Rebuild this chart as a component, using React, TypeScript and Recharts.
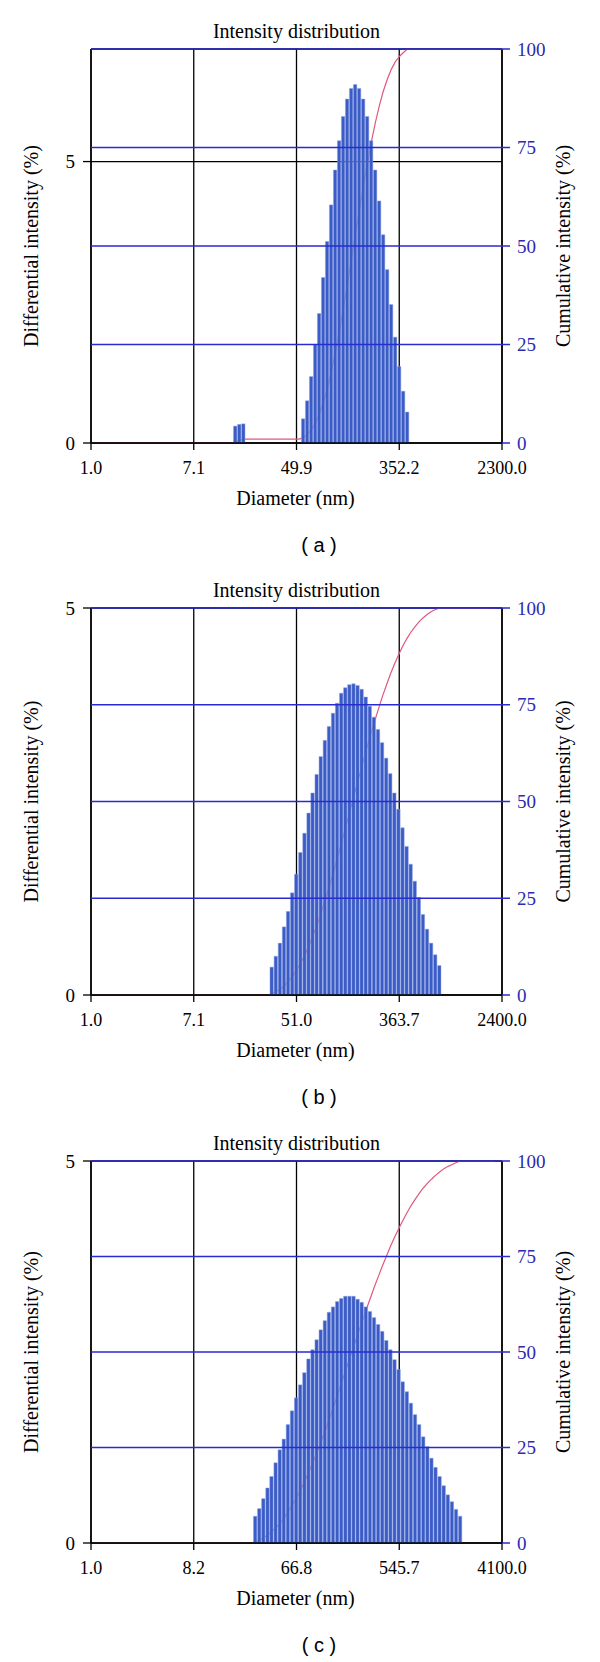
import React from 'react';
import { ComposedChart, Bar, Line, XAxis, YAxis, CartesianGrid, ReferenceLine } from 'recharts';

// ---------- Panel (a) ----------
const aTickLabels = ['1.0', '7.1', '49.9', '352.2', '2300.0'];
const aMaxDiameter = 2300;
const aLeftMax = 7;
const aDiameter = [15.2, 16.4, 17.7, 54.6, 58.9, 63.5, 68.5, 73.8, 79.6, 85.8, 92.5, 99.8, 107.6, 116.0, 125.1, 134.9, 145.4, 156.8, 169.1, 182.3, 196.6, 212.0, 228.6, 246.5, 265.7, 286.5, 309.0, 333.2, 359.2, 387.3];
const aDifferential = [0.30, 0.33, 0.34, 0.43, 0.75, 1.18, 1.75, 2.30, 2.94, 3.58, 4.23, 4.85, 5.37, 5.80, 6.11, 6.30, 6.37, 6.30, 6.11, 5.80, 5.37, 4.85, 4.30, 3.70, 3.08, 2.46, 1.88, 1.36, 0.92, 0.55];
const aCurveDiameter = [1, 14.1, 15.2, 16.4, 17.7, 50.6, 54.6, 58.9, 63.5, 68.5, 73.8, 79.6, 85.8, 92.5, 99.8, 107.6, 116.0, 125.1, 134.9, 145.4, 156.8, 169.1, 182.3, 196.6, 212.0, 228.6, 246.5, 265.7, 286.5, 309.0, 333.2, 359.2, 387.3, 2090];
const aCumulative = [0, 0, 0.3, 0.6, 1.0, 1.0, 1.4, 2.2, 3.3, 5.1, 7.4, 10.3, 13.9, 18.1, 23.0, 28.4, 34.2, 40.3, 46.6, 52.9, 59.2, 65.3, 71.1, 76.5, 81.4, 85.7, 89.4, 92.4, 94.9, 96.8, 98.1, 99.1, 100, 100];

// ---------- Panel (b) ----------
const bTickLabels = ['1.0', '7.1', '51.0', '363.7', '2400.0'];
const bMaxDiameter = 2400;
const bLeftMax = 5;
const bDiameter = [30.8, 33.3, 36.0, 38.9, 42.0, 45.4, 49.0, 53.0, 57.3, 61.9, 66.8, 72.2, 78.0, 84.3, 91.1, 98.4, 106.3, 114.9, 124.1, 134.1, 144.9, 156.6, 169.2, 182.8, 197.5, 213.4, 230.6, 249.1, 269.2, 290.8, 314.2, 339.5, 366.8, 396.3, 428.2, 462.8, 500.0, 540.2, 583.7, 630.7, 681.4, 736.3];
const bDifferential = [0.36, 0.50, 0.67, 0.88, 1.08, 1.32, 1.56, 1.84, 2.09, 2.35, 2.61, 2.85, 3.08, 3.29, 3.47, 3.64, 3.77, 3.90, 3.97, 4.01, 4.02, 4.00, 3.95, 3.85, 3.73, 3.59, 3.43, 3.26, 3.06, 2.86, 2.61, 2.40, 2.16, 1.92, 1.69, 1.47, 1.26, 1.04, 0.85, 0.67, 0.52, 0.38];
const bCurveDiameter = [1, 28.5, 30.8, 33.3, 36.0, 38.9, 42.0, 45.4, 49.0, 53.0, 57.3, 61.9, 66.8, 72.2, 78.0, 84.3, 91.1, 98.4, 106.3, 114.9, 124.1, 134.1, 144.9, 156.6, 169.2, 182.8, 197.5, 213.4, 230.6, 249.1, 269.2, 290.8, 314.2, 339.5, 366.8, 396.3, 428.2, 462.8, 500.0, 540.2, 583.7, 630.7, 681.4, 736.3, 2100];
const bCumulative = [0, 0, 0.4, 0.9, 1.5, 2.4, 3.5, 4.8, 6.4, 8.2, 10.3, 12.7, 15.3, 18.1, 21.2, 24.5, 28.0, 31.6, 35.4, 39.3, 43.2, 47.2, 51.3, 55.3, 59.2, 63.1, 66.8, 70.4, 73.8, 77.1, 80.1, 83.0, 85.6, 88.0, 90.2, 92.1, 93.8, 95.2, 96.5, 97.5, 98.4, 99.1, 99.6, 100, 100];

// ---------- Panel (c) ----------
const cTickLabels = ['1.0', '8.2', '66.8', '545.7', '4100.0'];
const cMaxDiameter = 4100;
const cLeftMax = 5;
const cDiameter = [27.9, 30.3, 32.9, 35.8, 38.8, 42.2, 45.9, 49.8, 54.1, 58.8, 63.9, 69.4, 75.5, 82.0, 89.1, 96.8, 105.2, 114.3, 124.1, 134.9, 146.6, 159.2, 173.0, 188.0, 204.2, 221.9, 241.1, 262.0, 284.7, 309.3, 336.0, 365.1, 396.7, 431.0, 468.3, 508.8, 552.8, 600.7, 652.6, 709.2, 770.5, 837.1, 909.6, 988.3, 1074.0, 1166.8, 1267.7, 1377.6, 1496.6, 1626.3, 1767.0];
const cDifferential = [0.35, 0.45, 0.58, 0.72, 0.87, 1.05, 1.22, 1.36, 1.55, 1.73, 1.90, 2.07, 2.23, 2.41, 2.53, 2.66, 2.79, 2.91, 3.02, 3.09, 3.16, 3.20, 3.23, 3.23, 3.23, 3.19, 3.15, 3.09, 3.03, 2.95, 2.86, 2.77, 2.65, 2.53, 2.40, 2.27, 2.11, 1.98, 1.83, 1.68, 1.55, 1.39, 1.26, 1.11, 0.99, 0.87, 0.75, 0.63, 0.54, 0.44, 0.35];
const cCurveDiameter = [1, 25.7, 27.9, 30.3, 32.9, 35.8, 38.8, 42.2, 45.9, 49.8, 54.1, 58.8, 63.9, 69.4, 75.5, 82.0, 89.1, 96.8, 105.2, 114.3, 124.1, 134.9, 146.6, 159.2, 173.0, 188.0, 204.2, 221.9, 241.1, 262.0, 284.7, 309.3, 336.0, 365.1, 396.7, 431.0, 468.3, 508.8, 552.8, 600.7, 652.6, 709.2, 770.5, 837.1, 909.6, 988.3, 1074.0, 1166.8, 1267.7, 1377.6, 1496.6, 1626.3, 1767.0, 3490];
const cCumulative = [0, 0, 0.4, 0.8, 1.4, 2.1, 3.0, 4.0, 5.2, 6.6, 8.2, 9.9, 11.8, 13.9, 16.1, 18.5, 21.0, 23.7, 26.5, 29.4, 32.4, 35.5, 38.7, 41.9, 45.1, 48.3, 51.5, 54.7, 57.9, 61.0, 64.0, 67.0, 69.8, 72.6, 75.2, 77.8, 80.2, 82.4, 84.5, 86.5, 88.4, 90.0, 91.6, 93.0, 94.2, 95.3, 96.3, 97.2, 98.0, 98.6, 99.1, 99.6, 100, 100];

const leftTicks = [0, 5];
const rightTicks = [0, 25, 50, 75, 100];
const gridTicks = [25, 50, 75, 100];

const SERIF = '"Liberation Serif", "Times New Roman", serif';
const SANS = '"Liberation Sans", Arial, sans-serif';
const BLUE = '#2a2ad2';
const BLUE_TEXT = '#2b2bb0';
const BAR = '#3b5bc6';
const RED = '#e0587c';

const MT = 10;
const XH = 40;
const PLOT_LEFT = 91;
const PLOT_RIGHT = 502;

type PanelProps = {
  plotTop: number;
  plotH: number;
  diameter: number[];
  differential: number[];
  curveDiameter: number[];
  cumulative: number[];
  tickLabels: string[];
  maxDiameter: number;
  leftMax: number;
  letter: string;
};

function Panel(p: PanelProps) {
  const data = p.diameter.map((d, i) => ({ d, v: p.differential[i] }));
  const curve = p.curveDiameter.map((d, i) => ({ d, c: p.cumulative[i] }));
  const n = p.tickLabels.length - 1;
  const xTicks = p.tickLabels.map((_, i) => (i === 0 ? 1 : i === n ? p.maxDiameter : Math.pow(p.maxDiameter, i / n)));
  const H = MT + p.plotH + XH;
  const axisY = p.plotTop + p.plotH;
  const midY = p.plotTop + p.plotH / 2;
  const midX = (PLOT_LEFT + PLOT_RIGHT) / 2;
  return (
    <>
      <div style={{ position: 'absolute', left: 0, top: p.plotTop - MT, width: 600, height: H }}>
        <ComposedChart
          width={600}
          height={H}
          data={data}
          margin={{ top: MT, right: 600 - PLOT_RIGHT - 60, bottom: 0, left: PLOT_LEFT - 60 }}
        >
          <CartesianGrid yAxisId="left" stroke="#000" strokeWidth={1.3} />
          <XAxis
            dataKey="d"
            type="number"
            scale="log"
            domain={[1, p.maxDiameter]}
            allowDataOverflow
            ticks={xTicks}
            interval={0}
            tickFormatter={(_v: number, i: number) => p.tickLabels[i]}
            height={XH}
            tickSize={7}
            tickMargin={11}
            axisLine={{ stroke: '#000', strokeWidth: 1.6 }}
            tickLine={{ stroke: '#000', strokeWidth: 1.3 }}
            tick={{ fill: '#000', fontSize: 18, fontFamily: SERIF }}
          />
          <YAxis
            yAxisId="left"
            domain={[0, p.leftMax]}
            allowDataOverflow
            ticks={leftTicks}
            interval={0}
            width={60}
            tickSize={8}
            tickMargin={8}
            axisLine={{ stroke: '#000', strokeWidth: 1.5 }}
            tickLine={{ stroke: '#000', strokeWidth: 1.3 }}
            tick={{ fill: '#000', fontSize: 19, fontFamily: SERIF }}
          />
          <YAxis
            yAxisId="right"
            orientation="right"
            domain={[0, 100]}
            allowDataOverflow
            ticks={rightTicks}
            interval={0}
            width={60}
            tickSize={8}
            tickMargin={7}
            axisLine={{ stroke: '#000', strokeWidth: 1.5 }}
            tickLine={{ stroke: BLUE, strokeWidth: 1.5 }}
            tick={{ fill: BLUE_TEXT, fontSize: 19, fontFamily: SERIF }}
          />
          <Line
            yAxisId="right"
            data={curve}
            dataKey="c"
            type="linear"
            stroke={RED}
            strokeWidth={1.2}
            dot={false}
            activeDot={false}
            isAnimationActive={false}
            zIndex={250}
          />
          <Bar
            yAxisId="left"
            dataKey="v"
            barSize={3.4}
            fill={BAR}
            stroke="#8fa4e2"
            strokeWidth={0.5}
            isAnimationActive={false}
          />
          {gridTicks.map((t) => (
            <ReferenceLine key={t} yAxisId="right" y={t} stroke={BLUE} strokeWidth={1.6} zIndex={600} />
          ))}
        </ComposedChart>
      </div>
      <svg
        style={{ position: 'absolute', left: 0, top: 0, pointerEvents: 'none' }}
        width={600}
        height={1662}
      >
        <text x={midX} y={p.plotTop - 11.5} textAnchor="middle" fontFamily={SERIF} fontSize={20} fill="#000">
          Intensity distribution
        </text>
        <text x={midX - 1} y={axisY + 62} textAnchor="middle" fontFamily={SERIF} fontSize={20} fill="#000">
          Diameter (nm)
        </text>
        <text
          transform={`translate(37.5, ${midY}) rotate(-90)`}
          textAnchor="middle"
          fontFamily={SERIF}
          fontSize={20}
          fill="#000"
        >
          Differential intensity (%)
        </text>
        <text
          transform={`translate(570, ${midY}) rotate(-90)`}
          textAnchor="middle"
          fontFamily={SERIF}
          fontSize={20}
          fill="#000"
        >
          Cumulative intensity (%)
        </text>
        <text x={319} y={axisY + 108.5} textAnchor="middle" fontFamily={SANS} fontSize={20} fill="#000" xmlSpace="preserve">
          {`( ${p.letter} )`}
        </text>
      </svg>
    </>
  );
}

export default function App() {
  return (
    <div style={{ position: 'absolute', left: 0, top: 0, width: 600, height: 1662, background: '#fff', overflow: 'hidden' }}>
      <Panel
        plotTop={49}
        plotH={394}
        diameter={aDiameter}
        differential={aDifferential}
        curveDiameter={aCurveDiameter}
        cumulative={aCumulative}
        tickLabels={aTickLabels}
        maxDiameter={aMaxDiameter}
        leftMax={aLeftMax}
        letter="a"
      />
      <Panel
        plotTop={608}
        plotH={387}
        diameter={bDiameter}
        differential={bDifferential}
        curveDiameter={bCurveDiameter}
        cumulative={bCumulative}
        tickLabels={bTickLabels}
        maxDiameter={bMaxDiameter}
        leftMax={bLeftMax}
        letter="b"
      />
      <Panel
        plotTop={1161}
        plotH={382}
        diameter={cDiameter}
        differential={cDifferential}
        curveDiameter={cCurveDiameter}
        cumulative={cCumulative}
        tickLabels={cTickLabels}
        maxDiameter={cMaxDiameter}
        leftMax={cLeftMax}
        letter="c"
      />
    </div>
  );
}
